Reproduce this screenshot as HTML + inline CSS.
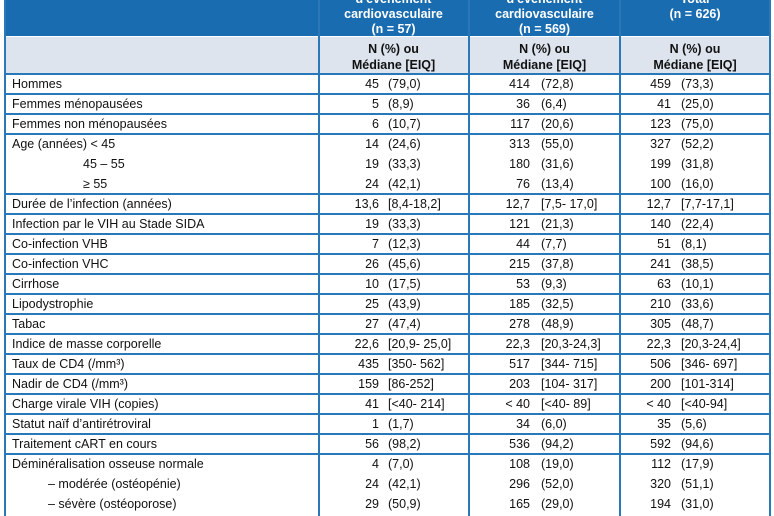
<!DOCTYPE html>
<html><head><meta charset="utf-8"><style>
body{margin:0;width:774px;height:516px;overflow:hidden;background:#fff;font-family:"Liberation Sans",sans-serif;font-size:12.5px;color:#111;position:relative}
.a{position:absolute}
.hl{position:absolute;left:4px;width:766px;height:1.5px;background:#2a78b8}
.vl{position:absolute;top:0;width:1.5px;height:516px;background:#2a78b8}
.t{position:absolute;left:12px;line-height:20px;white-space:nowrap}
.n{position:absolute;line-height:20px;text-align:right;width:60px}
.p{position:absolute;line-height:20px;white-space:nowrap}
.h{position:absolute;color:#fff;font-weight:bold;text-align:center;line-height:15px}
.g{position:absolute;font-weight:bold;text-align:center;line-height:16px}
</style></head><body>
<div class="a" style="left:4px;top:0;width:766px;height:36px;background:#1a6cb0"></div>
<div class="a" style="left:4px;top:36px;width:766px;height:38px;background:#dde4ee"></div>
<div class="h" style="left:318px;width:151px;top:-8px">d'événement<br>cardiovasculaire<br>(n = 57)</div>
<div class="h" style="left:469px;width:151px;top:-8px">d'événement<br>cardiovasculaire<br>(n = 569)</div>
<div class="h" style="left:620px;width:150px;top:-8px">Total<br>(n = 626)</div>
<div class="g" style="left:318px;width:151px;top:41px">N (%) ou<br>Médiane [EIQ]</div>
<div class="g" style="left:469px;width:151px;top:41px">N (%) ou<br>Médiane [EIQ]</div>
<div class="g" style="left:620px;width:150px;top:41px">N (%) ou<br>Médiane [EIQ]</div>

<div class="hl" style="top:36px;background:#fff;height:1px"></div>
<div class="hl" style="top:73px"></div><div class="hl" style="top:93px"></div><div class="hl" style="top:113px"></div><div class="hl" style="top:133px"></div><div class="hl" style="top:193px"></div><div class="hl" style="top:213px"></div><div class="hl" style="top:233px"></div><div class="hl" style="top:253px"></div><div class="hl" style="top:273px"></div><div class="hl" style="top:293px"></div><div class="hl" style="top:313px"></div><div class="hl" style="top:333px"></div><div class="hl" style="top:353px"></div><div class="hl" style="top:373px"></div><div class="hl" style="top:393px"></div><div class="hl" style="top:413px"></div><div class="hl" style="top:433px"></div><div class="hl" style="top:453px"></div>
<div class="vl" style="left:4px"></div><div class="vl" style="left:318px"></div><div class="vl" style="left:468px"></div><div class="vl" style="left:619px"></div><div class="vl" style="left:769px"></div>

<div class="t" style="top:74px">Hommes</div>
<div class="t" style="top:94px">Femmes ménopausées</div>
<div class="t" style="top:114px">Femmes non ménopausées</div>
<div class="t" style="top:134px">Age (années) &lt; 45</div>
<div class="t" style="top:154px;left:83px">45 – 55</div>
<div class="t" style="top:174px;left:83px">≥ 55</div>
<div class="t" style="top:194px">Durée de l’infection (années)</div>
<div class="t" style="top:214px">Infection par le VIH au Stade SIDA</div>
<div class="t" style="top:234px">Co-infection VHB</div>
<div class="t" style="top:254px">Co-infection VHC</div>
<div class="t" style="top:274px">Cirrhose</div>
<div class="t" style="top:294px">Lipodystrophie</div>
<div class="t" style="top:314px">Tabac</div>
<div class="t" style="top:334px">Indice de masse corporelle</div>
<div class="t" style="top:354px">Taux de CD4 (/mm³)</div>
<div class="t" style="top:374px">Nadir de CD4 (/mm³)</div>
<div class="t" style="top:394px">Charge virale VIH (copies)</div>
<div class="t" style="top:414px">Statut naïf d’antirétroviral</div>
<div class="t" style="top:434px">Traitement cART en cours</div>
<div class="t" style="top:454px">Déminéralisation osseuse normale</div>
<div class="t" style="top:474px;left:48px">– modérée (ostéopénie)</div>
<div class="t" style="top:494px;left:48px">– sévère (ostéoporose)</div>

<div id="d"></div>
<script>
var rows=[["45","(79,0)","414","(72,8)","459","(73,3)"],["5","(8,9)","36","(6,4)","41","(25,0)"],["6","(10,7)","117","(20,6)","123","(75,0)"],["14","(24,6)","313","(55,0)","327","(52,2)"],["19","(33,3)","180","(31,6)","199","(31,8)"],["24","(42,1)","76","(13,4)","100","(16,0)"],["13,6","[8,4-18,2]","12,7","[7,5- 17,0]","12,7","[7,7-17,1]"],["19","(33,3)","121","(21,3)","140","(22,4)"],["7","(12,3)","44","(7,7)","51","(8,1)"],["26","(45,6)","215","(37,8)","241","(38,5)"],["10","(17,5)","53","(9,3)","63","(10,1)"],["25","(43,9)","185","(32,5)","210","(33,6)"],["27","(47,4)","278","(48,9)","305","(48,7)"],["22,6","[20,9- 25,0]","22,3","[20,3-24,3]","22,3","[20,3-24,4]"],["435","[350- 562]","517","[344- 715]","506","[346- 697]"],["159","[86-252]","203","[104- 317]","200","[101-314]"],["41","[&lt;40- 214]","&lt; 40","[&lt;40- 89]","&lt; 40","[&lt;40-94]"],["1","(1,7)","34","(6,0)","35","(5,6)"],["56","(98,2)","536","(94,2)","592","(94,6)"],["4","(7,0)","108","(19,0)","112","(17,9)"],["24","(42,1)","296","(52,0)","320","(51,1)"],["29","(50,9)","165","(29,0)","194","(31,0)"]];
var ne=[379,530,671],ps=[388,541,681],h="";
rows.forEach(function(r,i){var y=74+i*20;for(var c=0;c<3;c++){h+='<div class="n" style="top:'+y+'px;left:'+(ne[c]-60)+'px">'+r[2*c]+'</div><div class="p" style="top:'+y+'px;left:'+ps[c]+'px">'+r[2*c+1]+'</div>';}});
document.getElementById('d').innerHTML=h;
</script>
</body></html>
